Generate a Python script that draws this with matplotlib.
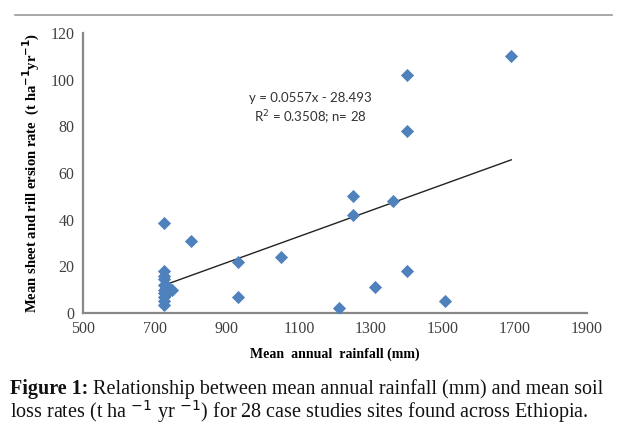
import matplotlib.pyplot as plt
import numpy as np

# Daten (Niederschlag mm, Erosionsrate t/ha/yr)
rainfall = [1690, 1400, 1400, 1250, 1250, 1360, 1400, 1310, 1505, 1210,
            1050, 930, 930, 800,
            725, 725, 725, 725, 725, 725, 725, 725, 725, 725,
            735, 735, 747, 740]
erosion = [110, 102, 78, 50, 42, 48, 18, 11, 5, 2,
           24, 22, 7, 31,
           38.5, 18, 16, 14.5, 12, 10, 8.5, 7, 5, 3.5,
           11, 9, 10, 9.5]

slope = 0.0557
intercept = -28.493
x_ticks = [500, 700, 900, 1100, 1300, 1500, 1700, 1900]
y_ticks = [0, 20, 40, 60, 80, 100, 120]

fig = plt.figure(figsize=(6.27, 4.38), dpi=100)
ax = fig.add_axes([0.1324, 0.2854, 0.8036, 0.6393])

ax.scatter(rainfall, erosion, marker='D', s=45, color='#4F81BD', zorder=3, linewidths=0)

xl = np.array([min(rainfall), max(rainfall)])
ax.plot(xl, slope * xl + intercept, color='#222222', lw=1.0, zorder=2)

ax.set_xlim(500, 1900)
ax.set_ylim(0, 120)
ax.set_xticks(x_ticks)
ax.set_yticks(y_ticks)
ax.tick_params(length=0, labelsize=11.5, colors='#404040', pad=6)
for lab in ax.get_xticklabels() + ax.get_yticklabels():
    lab.set_family('Liberation Serif')

for s in ['top', 'right']:
    ax.spines[s].set_visible(False)
for s in ['left', 'bottom']:
    ax.spines[s].set_color('#888888')
    ax.spines[s].set_linewidth(1.6)

ax.set_xlabel('Mean  annual  rainfall (mm)', family='Liberation Serif', fontweight='bold',
              fontsize=10, labelpad=7)
ax.set_ylabel('Mean sheet and rill ersion rate  (t ha$^{\\mathbf{-1}}$yr$^{\\mathbf{-1}}$)',
              family='Liberation Serif', fontweight='bold', fontsize=10.5, labelpad=6)

ax.text(1133, 92, 'y = 0.0557x - 28.493', family='Lato', fontsize=9.5, color='#333333',
        ha='center', va='center')
ax.text(1133, 83.5, 'R$^2$ = 0.3508; n= 28', family='Lato', fontsize=9.5, color='#333333',
        ha='center', va='center')

# obere Trennlinie
fig.add_artist(plt.Line2D([0.024, 0.976], [0.965, 0.965], color='#999999', lw=1.2))

# Bildunterschrift
t1 = fig.text(0.016, 0.100, 'Figure 1:', family='Liberation Serif', fontweight='bold',
              fontsize=14.5, color='#111111', va='baseline')
ax.annotate(' Relationship between mean annual rainfall (mm) and mean soil', xy=(1, 0),
            xycoords=t1, va='bottom', ha='left', family='Liberation Serif', fontsize=14.5,
            color='#111111', annotation_clip=False)
fig.text(0.016, 0.046, 'loss rates (t ha $^{-1}$ yr $^{-1}$) for 28 case studies sites found across Ethiopia.',
         family='Liberation Serif', fontsize=14.5, color='#111111', va='baseline')

fig.savefig('out.png', dpi=100)
